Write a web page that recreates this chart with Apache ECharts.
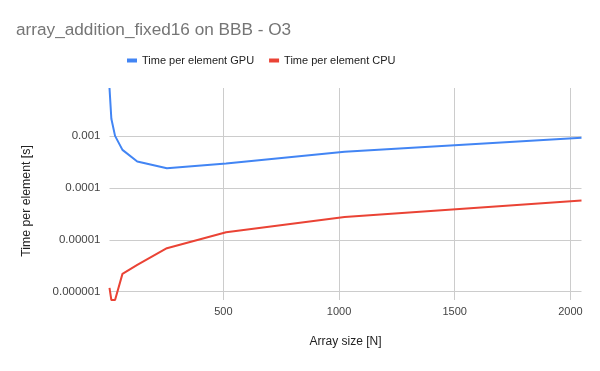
<!DOCTYPE html>
<html>
<head>
<meta charset="utf-8">
<script src="https://cdn.jsdelivr.net/npm/echarts@6/dist/echarts.min.js"></script>
<style>html,body{margin:0;padding:0;background:#fff}#chart{width:600px;height:371px}</style>
</head>
<body>
<div id="chart"></div>
<script>
const arraySizes = [8, 16, 32, 64, 128, 256, 512, 1024, 2048];
const gpuTimes = [0.00848, 0.00216, 0.00101, 0.000543, 0.000324, 0.00024, 0.000296, 0.0005, 0.00093];
const cpuTimes = [0.00000118, 0.00000069, 0.00000069, 0.0000022, 0.00000327, 0.0000069, 0.000014, 0.0000274, 0.0000575];
const yTicks = [0.000001, 0.00001, 0.0001, 0.001];

const FONT = 'Liberation Sans, Arial, sans-serif';
const chart = echarts.init(document.getElementById('chart'), null, {renderer: 'canvas'});
function fmtY(v) {
  const e = Math.round(Math.log10(v));
  const t = yTicks.find(x => Math.abs(Math.log10(x) - Math.log10(v)) < 1e-6);
  if (t === undefined) return '';
  return t.toFixed(-e);
}
chart.setOption({
  animation: false,
  textStyle: {fontFamily: FONT},
  title: {
    text: 'array_addition_fixed16 on BBB - O3',
    left: 16, top: 22, padding: 0,
    textStyle: {fontFamily: FONT, fontSize: 17.2, fontWeight: 'normal', color: '#757575'}
  },
  legend: {
    left: 127, top: 55, padding: 0,
    itemWidth: 10, itemHeight: 4, itemGap: 15,
    icon: 'rect',
    textStyle: {fontFamily: FONT, fontSize: 11, color: '#222'},
    data: ['Time per element GPU', 'Time per element CPU']
  },
  grid: {left: 109.5, right: 18.5, top: 88, bottom: 71, containLabel: false},
  xAxis: {
    type: 'value',
    min: arraySizes[0],
    max: arraySizes[arraySizes.length - 1],
    name: 'Array size [N]',
    nameLocation: 'middle',
    nameGap: 36,
    nameTextStyle: {fontFamily: FONT, fontSize: 12, color: '#222'},
    axisLine: {show: false},
    axisTick: {show: false},
    axisLabel: {showMinLabel: false, showMaxLabel: false, margin: 6, fontFamily: FONT, fontSize: 11, color: '#444', formatter: v => String(v)},
    splitLine: {show: true, showMinLine: false, showMaxLine: false, lineStyle: {color: '#cccccc', width: 1}}
  },
  yAxis: {
    type: 'log',
    logBase: 10,
    min: Math.min(...cpuTimes),
    max: Math.max(...gpuTimes),
    name: 'Time per element [s]',
    nameLocation: 'middle',
    nameGap: 77,
    nameTextStyle: {fontFamily: FONT, fontSize: 12.3, color: '#222', padding: [0, 14, 0, 0]},
    axisLine: {show: false},
    axisTick: {show: false},
    axisLabel: {showMinLabel: false, showMaxLabel: false, margin: 9, fontFamily: FONT, fontSize: 11.5, color: '#444', formatter: fmtY},
    splitLine: {show: true, showMinLine: false, showMaxLine: false, lineStyle: {color: '#cccccc', width: 1}}
  },
  series: [
    {
      name: 'Time per element GPU', type: 'line', symbol: 'none', smooth: false,
      lineStyle: {width: 2, color: '#4285F4'}, itemStyle: {color: '#4285F4'},
      data: arraySizes.map((x, i) => [x, gpuTimes[i]])
    },
    {
      name: 'Time per element CPU', type: 'line', symbol: 'none', smooth: false,
      lineStyle: {width: 2, color: '#EA4335'}, itemStyle: {color: '#EA4335'},
      data: arraySizes.map((x, i) => [x, cpuTimes[i]])
    }
  ]
});
</script>
</body>
</html>
